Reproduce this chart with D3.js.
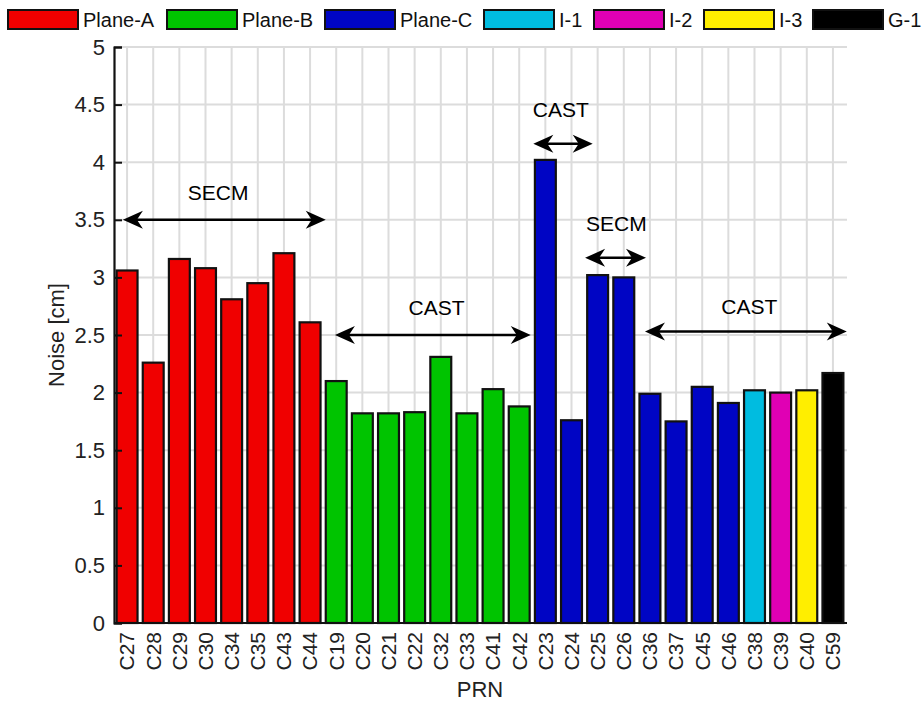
<!DOCTYPE html>
<html>
<head>
<meta charset="utf-8">
<script src="https://cdn.jsdelivr.net/npm/d3@7"></script>
<style>
  html, body { margin: 0; padding: 0; background: #fff; }
  svg { display: block; font-family: "Liberation Sans", Arial, sans-serif; }
</style>
</head>
<body>
<svg id="chart" width="922" height="702"></svg>
<script>
// Satellite PRNs along the x axis
const prns = ["C27","C28","C29","C30","C34","C35","C43","C44",
              "C19","C20","C21","C22","C32","C33","C41","C42",
              "C23","C24","C25","C26","C36","C37","C45","C46",
              "C38","C39","C40","C59"];
// Noise per PRN [cm]
const noise = [3.06,2.26,3.16,3.08,2.81,2.95,3.21,2.61,
               2.10,1.82,1.82,1.83,2.31,1.82,2.03,1.88,
               4.02,1.76,3.02,3.00,1.99,1.75,2.05,1.91,
               2.02,2.00,2.02,2.17];
// Orbit group of each PRN
const groupOf = ["Plane-A","Plane-A","Plane-A","Plane-A","Plane-A","Plane-A","Plane-A","Plane-A",
                 "Plane-B","Plane-B","Plane-B","Plane-B","Plane-B","Plane-B","Plane-B","Plane-B",
                 "Plane-C","Plane-C","Plane-C","Plane-C","Plane-C","Plane-C","Plane-C","Plane-C",
                 "I-1","I-2","I-3","G-1"];
const groups = ["Plane-A","Plane-B","Plane-C","I-1","I-2","I-3","G-1"];
const groupColors = ["#f00000","#00c400","#0005c4","#00bce0","#e000b4","#ffee00","#000000"];
const yTicks = [0,0.5,1,1.5,2,2.5,3,3.5,4,4.5,5];
// Bracket annotations: x in category-index units, y in cm
const spanLabels = ["SECM","CAST","CAST","SECM","CAST"];
const spanFrom   = [-0.16, 7.95, 15.54, 17.52, 19.81];
const spanTo     = [ 7.60, 15.44, 17.81, 19.85, 27.53];
const spanY      = [ 3.50, 2.50, 4.16, 3.17, 2.53];
const spanTextX  = [ 3.48, 11.84, 16.59, 18.72, 23.80];
const spanTextY  = [ 3.74, 2.74, 4.46, 3.47, 2.75];

const svg = d3.select("#chart");
const plotLeft = 114, plotRight = 846, plotTop = 47, plotBottom = 623;

const x = d3.scaleBand().domain(prns).range([plotLeft, plotRight]).paddingInner(0.2).paddingOuter(0.1);
const xi = d3.scaleLinear().domain([-0.5, prns.length - 0.5]).range([plotLeft, plotRight]);
const y = d3.scaleLinear().domain([0, 5]).range([plotBottom, plotTop]);
const color = d3.scaleOrdinal().domain(groups).range(groupColors);

// Grid
const grid = svg.append("g").attr("stroke", "#dcdcdc").attr("stroke-width", 2);
grid.selectAll("line.h").data(yTicks.slice(1)).join("line")
  .attr("x1", plotLeft).attr("x2", plotRight + 1)
  .attr("y1", d => y(d)).attr("y2", d => y(d));
grid.selectAll("line.v").data(prns).join("line")
  .attr("x1", d => x(d) + x.bandwidth() / 2).attr("x2", d => x(d) + x.bandwidth() / 2)
  .attr("y1", plotTop).attr("y2", plotBottom);

// Bars
svg.append("g").selectAll("rect").data(prns).join("rect")
  .attr("x", d => x(d))
  .attr("width", x.bandwidth())
  .attr("y", (d, i) => y(noise[i]))
  .attr("height", (d, i) => y(0) - y(noise[i]))
  .attr("fill", (d, i) => color(groupOf[i]))
  .attr("stroke", "#111")
  .attr("stroke-width", 2.2);

// Y axis
const yAxis = svg.append("g").attr("transform", `translate(${plotLeft},0)`)
  .call(d3.axisLeft(y).tickValues(yTicks).tickSize(-8).tickPadding(9).tickFormat(d3.format("~g")));
yAxis.select(".domain").attr("stroke", "#111").attr("stroke-width", 2.2);
yAxis.selectAll(".tick line").attr("stroke", "#111").attr("stroke-width", 2);
yAxis.selectAll(".tick text").attr("font-size", 22).attr("fill", "#222")
  .attr("font-family", "Liberation Sans, Arial, sans-serif");

// X axis
const xAxis = svg.append("g").attr("transform", `translate(0,${plotBottom})`)
  .call(d3.axisBottom(x).tickSize(0).tickPadding(0));
xAxis.select(".domain").attr("stroke", "#111").attr("stroke-width", 2.2)
  .attr("d", `M${plotLeft},0H${plotRight + 1}`);
xAxis.selectAll(".tick text")
  .attr("font-size", 21).attr("fill", "#222")
  .attr("font-family", "Liberation Sans, Arial, sans-serif")
  .attr("transform", "rotate(-90)")
  .attr("text-anchor", "end")
  .attr("x", -9).attr("y", 0).attr("dy", "0.35em");

// Axis titles
svg.append("text").attr("x", (plotLeft + plotRight) / 2).attr("y", 689)
  .attr("text-anchor", "middle").attr("dominant-baseline", "central")
  .attr("font-size", 22).attr("fill", "#222").text("PRN");
svg.append("text").attr("transform", `translate(56,${(plotTop + plotBottom) / 2}) rotate(-90)`)
  .attr("text-anchor", "middle").attr("dominant-baseline", "central")
  .attr("font-size", 22).attr("fill", "#222").text("Noise [cm]");

// Double-headed arrows with labels
function head(tipX, yy, dir) {
  const L = 20, W = 9, N = 14;
  return `M${tipX},${yy}L${tipX + dir * L},${yy - W}L${tipX + dir * N},${yy}L${tipX + dir * L},${yy + W}Z`;
}
const ann = svg.append("g");
spanLabels.forEach((lab, i) => {
  const x0 = xi(spanFrom[i]), x1 = xi(spanTo[i]), yy = y(spanY[i]);
  ann.append("line").attr("x1", x0 + 6).attr("x2", x1 - 6).attr("y1", yy).attr("y2", yy)
    .attr("stroke", "#000").attr("stroke-width", 2.5);
  ann.append("path").attr("d", head(x0, yy, 1)).attr("fill", "#000");
  ann.append("path").attr("d", head(x1, yy, -1)).attr("fill", "#000");
  ann.append("text").attr("x", xi(spanTextX[i])).attr("y", y(spanTextY[i]))
    .attr("text-anchor", "middle").attr("dominant-baseline", "central")
    .attr("font-size", 21).attr("fill", "#000").text(lab);
});

// Legend
const legendX = [8, 167, 325, 484, 594, 704, 813];
const leg = svg.append("g");
groups.forEach((g, i) => {
  leg.append("rect").attr("x", legendX[i]).attr("y", 10).attr("width", 70).attr("height", 19)
    .attr("fill", groupColors[i]).attr("stroke", "#111").attr("stroke-width", 2);
  leg.append("text").attr("x", legendX[i] + 75).attr("y", 20)
    .attr("dominant-baseline", "central").attr("font-size", 20).attr("fill", "#111").text(g);
});
</script>
</body>
</html>
